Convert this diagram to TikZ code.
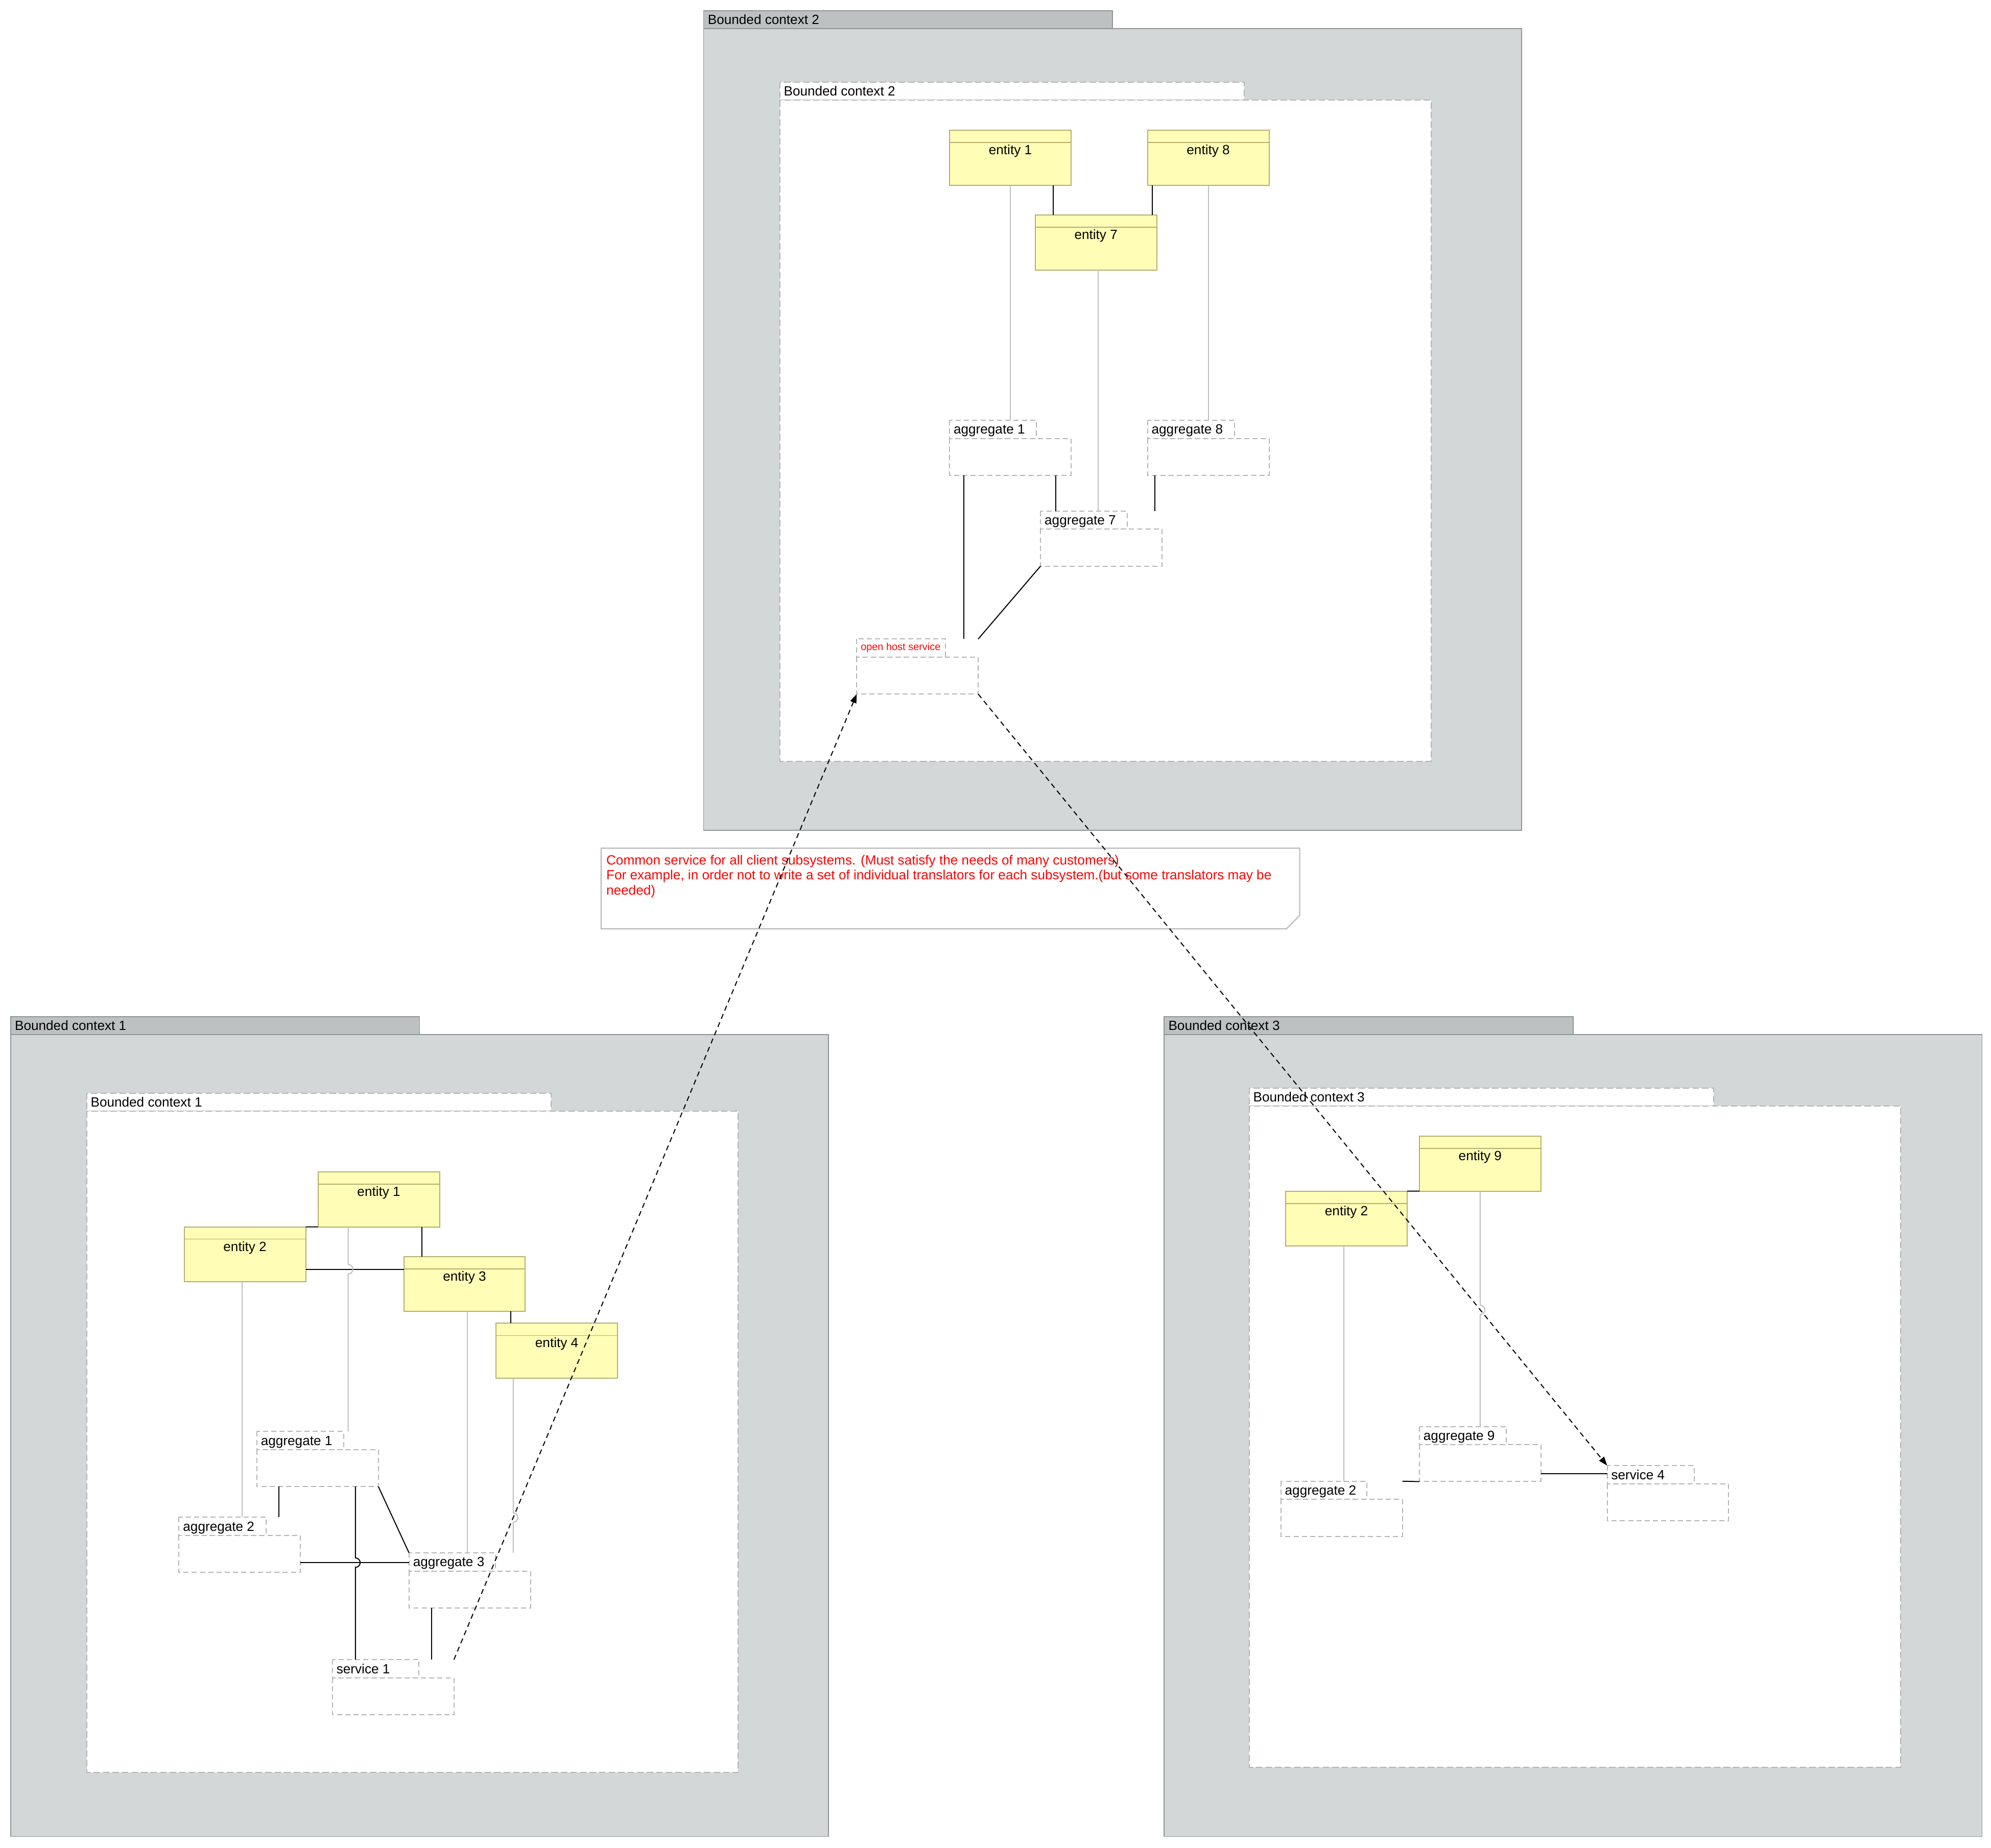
\documentclass[tikz,border=0pt]{standalone}
\usepackage{fontspec}
\setmainfont{Liberation Sans}
\usetikzlibrary{arrows.meta}
\definecolor{ctxbody}{HTML}{D3D7D8}
\definecolor{ctxtab}{HTML}{BDC1C2}
\definecolor{ctxline}{HTML}{909494}
\definecolor{dashgrey}{HTML}{B4B4B4}
\definecolor{entfill}{HTML}{FFFDB6}
\definecolor{entline}{HTML}{B3AF70}
\definecolor{conngrey}{HTML}{BEBEBE}
\definecolor{notered}{HTML}{FF0000}

\newcommand{\ctxframe}[4]{%
  \path[outertab] (#2,#3) rectangle ++(321.5,14);
  \path[outerctx] (#2,#3+14) rectangle ++(643,630.5);
  \node[txt,anchor=base west] (#1) at (#2+3.4,#3+10.5) {#4};
}
\newcommand{\innerframe}[4]{%
  \path[innerctx] (#2,#3) rectangle ++(365,14.2);
  \path[innerctx] (#2,#3+14.2) rectangle ++(512,519.8);
  \node[txt,anchor=base west] (#1) at (#2+3.1,#3+10.7) {#4};
}
\newcommand{\entity}[4]{%
  \node[entbox] (#1) at (#2,#3) {};
  \draw[draw=entline,line width=0.6pt] ([yshift=-9.7pt]#1.north west) -- ([yshift=-9.7pt]#1.north east);
  \node[txt,anchor=base] (#1-t) at ([yshift=-19.2pt]#1.north) {#4};
}
\newcommand{\aggbox}[6][]{%
  \path[aggline] (#3,#4) rectangle ++(#5,14.3);
  \path[aggline] (#3,#4+14.3) rectangle ++(95.5,29);
  \node[aggbb] (#2) at (#3,#4) {};
  \node[txt,anchor=base west,#1] (#2-t) at (#3+3.2,#4+10.8) {#6};
}

\begin{document}
\begin{tikzpicture}[x=1pt,y=-1pt,
  outerctx/.style={fill=ctxbody,draw=ctxline,line width=0.7pt},
  outertab/.style={fill=ctxtab,draw=ctxline,line width=0.7pt},
  innerctx/.style={fill=white,draw=dashgrey,line width=0.8pt,dash pattern=on 5pt off 2.5pt},
  entbox/.style={rectangle,draw=entline,fill=entfill,line width=0.8pt,minimum width=95.5pt,minimum height=43.3pt,inner sep=0pt,outer sep=0pt,anchor=north west},
  aggbb/.style={rectangle,minimum width=95.5pt,minimum height=43.3pt,inner sep=0pt,outer sep=0pt,anchor=north west},
  aggline/.style={draw=dashgrey,fill=white,line width=0.8pt,dash pattern=on 4pt off 2.5pt},
  txt/.style={font=\fontsize{10.5}{12}\selectfont,inner sep=0pt,outer sep=0pt},
  ohslabel/.style={font=\fontsize{8}{9.6}\selectfont,text=notered,yshift=1.8pt},
  blk/.style={draw=black,line width=0.8pt},
  greyc/.style={draw=conngrey,line width=0.8pt},
  dep/.style={draw=black,line width=0.8pt,dash pattern=on 4pt off 3pt,-{Triangle[length=7pt,width=5pt]}},
  notetext/.style={txt,anchor=base west,text=notered},
]
\useasboundingbox (0,0) rectangle (1565,1452.6);
\fill[white] (0,0) rectangle (1565,1452.6);

% ---------- frames ----------
\ctxframe{ctx1}{8.3}{799.4}{Bounded context 1}
\ctxframe{ctx2}{553}{8.4}{Bounded context 2}
\ctxframe{ctx3}{915}{799.4}{Bounded context 3}
\innerframe{in1}{68.2}{859.5}{Bounded context 1}
\innerframe{in2}{613}{64.6}{Bounded context 2}
\innerframe{in3}{982}{855.5}{Bounded context 3}

% ---------- note ----------
\path[draw=dashgrey,fill=white,line width=0.8pt] (472.5,666.8) -- (1021.6,666.8) -- (1021.6,719.8) -- (1011.2,730.2) -- (472.5,730.2) -- cycle;
\node[notetext] (note1) at (476.6,679.9) {Common service for all client subsystems. (Must satisfy the needs of many customers)};
\node[notetext] (note2) at (476.6,691.7) {For example, in order not to write a set of individual translators for each subsystem.(but some translators may be};
\node[notetext] (note3) at (476.6,703.5) {needed)};

% ---------- Bounded context 2 ----------
\entity{p2e1}{746.4}{102.3}{entity 1}
\entity{p2e8}{902}{102.3}{entity 8}
\entity{p2e7}{813.7}{169}{entity 7}
\aggbox{p2a1}{746.4}{330.4}{68.1}{aggregate 1}
\aggbox{p2a8}{902}{330.4}{68.4}{aggregate 8}
\aggbox{p2a7}{817.9}{401.8}{68}{aggregate 7}
\aggbox[ohslabel]{p2ohs}{673.4}{502.4}{69.7}{open host service}

\draw[greyc] (p2e1.south) -- (p2a1.north);
\draw[blk] (p2e1.south -| 827.8,0) -- (p2e7.north -| 827.8,0);
\draw[blk] (p2e8.south -| 905.6,0) -- (p2e7.north -| 905.6,0);
\draw[greyc] (p2e8.south) -- (p2a8.north);
\draw[greyc] (p2e7.south -| 863.3,0) -- (p2a7.north -| 863.3,0);
\draw[blk] (p2a1.south -| 829.9,0) -- (p2a7.north -| 829.9,0);
\draw[blk] (p2a8.south -| 907.7,0) -- (p2a7.north -| 907.7,0);
\draw[blk] (p2a1.south -| 757.6,0) -- (p2ohs.north -| 757.6,0);
\draw[blk] (p2a7.south west) -- (p2ohs.north east);

% ---------- Bounded context 1 ----------
\entity{p1e1}{250}{921.3}{entity 1}
\entity{p1e2}{144.8}{964.6}{entity 2}
\entity{p1e3}{317.4}{987.9}{entity 3}
\entity{p1e4}{389.9}{1040.3}{entity 4}
\aggbox{p1a1}{201.9}{1125.5}{68.1}{aggregate 1}
\aggbox{p1a2}{140.7}{1193}{68.4}{aggregate 2}
\aggbox{p1a3}{321.5}{1220.9}{68.1}{aggregate 3}
\aggbox{p1s1}{261.3}{1304.9}{68.1}{service 1}

\draw[blk] (p1e2.north east) -- (p1e1.south west);
\draw[blk] (p1e1.south -| 331.5,0) -- (p1e3.north -| 331.5,0);
\draw[blk] (p1e2.east |- 0,997.9) -- (p1e3.west |- 0,997.9);
\draw[greyc] (p1e1.south -| 273.7,0) -- (273.7,994.2) arc[start angle=90,end angle=-90,radius=3.7pt] -- (p1a1.north -| 273.7,0);
\draw[greyc] (p1e2.south -| 190.5,0) -- (p1a2.north -| 190.5,0);
\draw[greyc] (p1e3.south -| 367.2,0) -- (p1a3.north -| 367.2,0);
\draw[blk] (p1e3.south -| 401.4,0) -- (p1e4.north -| 401.4,0);
\draw[greyc] (p1e4.south -| 403.4,0) -- (403.4,1189.45) arc[start angle=90,end angle=-90,radius=3.7pt] -- (p1a3.north -| 403.4,0);
\draw[blk] (p1a1.south -| 219.1,0) -- (p1a2.north -| 219.1,0);
\draw[blk] (p1a1.south -| 279.4,0) -- (279.4,1224.9) arc[start angle=90,end angle=-90,radius=3.7pt] -- (p1s1.north -| 279.4,0);
\draw[blk] (p1a1.south east) -- (p1a3.north west);
\draw[blk] (p1a2.east |- 0,1228.6) -- (p1a3.west |- 0,1228.6);
\draw[blk] (p1a3.south -| 339.2,0) -- (p1s1.north -| 339.2,0);

% ---------- Bounded context 3 ----------
\entity{p3e9}{1115.7}{893.2}{entity 9}
\entity{p3e2}{1010.6}{936.5}{entity 2}
\aggbox{p3a9}{1115.7}{1121.6}{68.3}{aggregate 9}
\aggbox{p3a2}{1006.8}{1164.6}{67.7}{aggregate 2}
\aggbox{p3s4}{1263.3}{1152.3}{68.3}{service 4}

\draw[blk] (p3e2.north east) -- (p3e9.south west);
\draw[greyc] (p3e9.south) -- (1163.45,1026.1) arc[start angle=90,end angle=-90,radius=3.7pt] -- (p3a9.north);
\draw[greyc] (p3e2.south -| 1056.3,0) -- (p3a2.north -| 1056.3,0);
\draw[blk] (p3a2.north east) -- (p3a9.south west);
\draw[blk] (p3a9.east |- 0,1158.8) -- (p3s4.west |- 0,1158.8);

% ---------- dependencies ----------
\draw[dep] (p1s1.north east) -- (p2ohs.south west);
\draw[dep] (p2ohs.south east) -- (p3s4.north west);
\end{tikzpicture}
\end{document}
